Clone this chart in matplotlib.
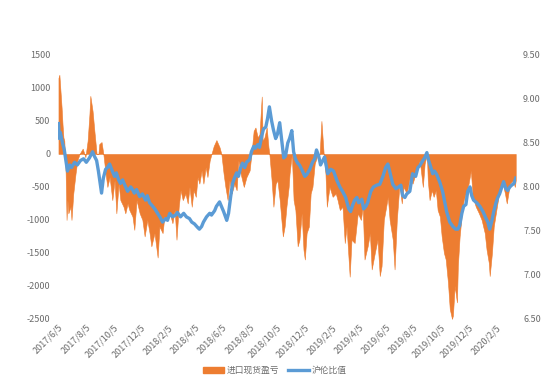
import matplotlib
matplotlib.use("Agg")
import matplotlib.pyplot as plt
from matplotlib.patches import Patch
from matplotlib.lines import Line2D
import pandas as pd

plt.rcParams['font.family'] = ['Noto Sans CJK SC', 'DejaVu Sans']

area_dates = [
    "2017-06-05", "2017-06-07", "2017-06-09", "2017-06-12", "2017-06-14", "2017-06-16", "2017-06-18",
    "2017-06-21", "2017-06-23", "2017-06-25", "2017-06-27", "2017-07-02", "2017-07-04", "2017-07-08",
    "2017-07-13", "2017-07-17", "2017-07-22", "2017-07-29", "2017-08-04", "2017-08-09", "2017-08-13",
    "2017-08-15", "2017-08-20", "2017-08-24", "2017-08-29", "2017-09-02", "2017-09-04", "2017-09-09",
    "2017-09-13", "2017-09-18", "2017-09-22", "2017-09-27", "2017-10-03", "2017-10-08", "2017-10-12",
    "2017-10-17", "2017-10-21", "2017-10-28", "2017-11-01", "2017-11-06", "2017-11-10", "2017-11-17",
    "2017-11-21", "2017-11-26", "2017-12-03", "2017-12-09", "2017-12-14", "2017-12-20", "2017-12-25",
    "2017-12-29", "2018-01-05", "2018-01-12", "2018-01-16", "2018-01-23", "2018-01-27", "2018-02-01",
    "2018-02-08", "2018-02-14", "2018-02-19", "2018-02-23", "2018-02-28", "2018-03-04", "2018-03-09",
    "2018-03-15", "2018-03-20", "2018-03-24", "2018-03-29", "2018-04-02", "2018-04-07", "2018-04-11",
    "2018-04-15", "2018-04-20", "2018-04-24", "2018-04-29", "2018-05-03", "2018-05-08", "2018-05-12",
    "2018-05-17", "2018-05-23", "2018-05-30", "2018-06-03", "2018-06-08", "2018-06-12", "2018-06-17",
    "2018-06-21", "2018-06-26", "2018-07-02", "2018-07-07", "2018-07-11", "2018-07-16", "2018-07-23",
    "2018-07-29", "2018-08-05", "2018-08-09", "2018-08-14", "2018-08-18", "2018-08-23", "2018-08-27",
    "2018-09-01", "2018-09-03", "2018-09-07", "2018-09-12", "2018-09-16", "2018-09-18", "2018-09-23",
    "2018-09-27", "2018-10-02", "2018-10-06", "2018-10-11", "2018-10-18", "2018-10-22", "2018-10-26",
    "2018-10-31", "2018-11-02", "2018-11-07", "2018-11-11", "2018-11-15", "2018-11-20", "2018-11-24",
    "2018-11-29", "2018-12-03", "2018-12-06", "2018-12-10", "2018-12-15", "2018-12-19", "2018-12-23",
    "2018-12-28", "2019-01-04", "2019-01-08", "2019-01-12", "2019-01-17", "2019-01-21", "2019-01-24",
    "2019-01-30", "2019-02-06", "2019-02-13", "2019-02-17", "2019-02-22", "2019-02-28", "2019-03-05",
    "2019-03-09", "2019-03-16", "2019-03-20", "2019-03-27", "2019-04-03", "2019-04-10", "2019-04-14",
    "2019-04-18", "2019-04-25", "2019-04-30", "2019-05-04", "2019-05-11", "2019-05-17", "2019-05-22",
    "2019-05-26", "2019-05-31", "2019-06-04", "2019-06-09", "2019-06-13", "2019-06-20", "2019-06-24",
    "2019-06-29", "2019-07-05", "2019-07-10", "2019-07-14", "2019-07-21", "2019-07-28", "2019-08-03",
    "2019-08-12", "2019-08-19", "2019-08-26", "2019-08-30", "2019-09-04", "2019-09-06", "2019-09-10",
    "2019-09-15", "2019-09-19", "2019-09-24", "2019-09-28", "2019-10-03", "2019-10-07", "2019-10-12",
    "2019-10-16", "2019-10-21", "2019-10-25", "2019-10-30", "2019-11-01", "2019-11-05", "2019-11-10",
    "2019-11-12", "2019-11-16", "2019-11-21", "2019-11-25", "2019-12-02", "2019-12-06", "2019-12-11",
    "2019-12-15", "2019-12-22", "2019-12-29", "2020-01-04", "2020-01-11", "2020-01-15", "2020-01-20",
    "2020-01-22", "2020-01-27", "2020-01-31", "2020-02-07", "2020-02-13", "2020-02-20", "2020-02-25",
    "2020-02-29", "2020-03-07", "2020-03-14", "2020-03-18", "2020-03-20",
]
area_values = [
    1150, 1200, 1000, 700, 450, 250, 200,
    -300, -1000, -700, -900, -800, -1000, -600,
    -300, -100, 0, 80, -50, 200, 600,
    880, 650, 350, 0, 0, 150, 180,
    0, -300, -500, -350, -700, -400, -900,
    -450, -700, -800, -900, -750, -850, -950,
    -1150, -700, -900, -1000, -1250, -1000, -1200,
    -1400, -1200, -1570, -1100, -1200, -950, -1000,
    -900, -1050, -850, -1300, -800, -550, -700,
    -600, -750, -500, -800, -550, -650, -350,
    -450, -250, -450, -200, -350, -100, 0,
    120, 210, 100, 0, -300, -500, -700,
    -400, -600, -450, -550, -100, -300, -500,
    -350, -250, 0, 350, 400, 250, 300,
    870, 200, 250, 400, 100, 0, -400,
    -800, -450, -400, -700, -1250, -1100, -800,
    -500, -300, 0, -700, -850, -1400, -1300,
    -900, -1450, -1600, -1200, -1100, -600, -500,
    -150, 0, 0, 500, 0, -300, -800,
    -500, -650, -600, -700, -850, -800, -1350,
    -1100, -1860, -1300, -1350, -900, -1000, -800,
    -1600, -1400, -1200, -1750, -1500, -1300, -1850,
    -1700, -1000, -850, -650, -1000, -1300, -1750,
    -1000, -450, -750, -500, -600, -350, -450,
    -250, -100, -500, -150, 0, -400, -700,
    -550, -650, -550, -850, -950, -1250, -1500,
    -1600, -1950, -2350, -2500, -2450, -2000, -2250,
    -1700, -1250, -900, -700, -550, -450, -250,
    -650, -800, -900, -1000, -1200, -1450, -1650,
    -1850, -1500, -1100, -800, -550, -450, -600,
    -750, -450, -400, -500, -400,
]

line_dates = [
    "2017-06-05", "2017-06-07", "2017-06-09", "2017-06-14", "2017-06-18", "2017-06-23", "2017-06-25",
    "2017-06-30", "2017-07-04", "2017-07-11", "2017-07-17", "2017-07-24", "2017-07-31", "2017-08-06",
    "2017-08-13", "2017-08-20", "2017-08-24", "2017-08-29", "2017-09-02", "2017-09-07", "2017-09-09",
    "2017-09-13", "2017-09-18", "2017-09-22", "2017-09-27", "2017-10-03", "2017-10-08", "2017-10-12",
    "2017-10-17", "2017-10-21", "2017-10-26", "2017-10-30", "2017-11-06", "2017-11-13", "2017-11-17",
    "2017-11-21", "2017-11-26", "2017-12-03", "2017-12-09", "2017-12-16", "2017-12-20", "2017-12-25",
    "2018-01-01", "2018-01-07", "2018-01-12", "2018-01-18", "2018-01-23", "2018-01-30", "2018-02-03",
    "2018-02-08", "2018-02-14", "2018-02-21", "2018-02-25", "2018-03-04", "2018-03-11", "2018-03-17",
    "2018-03-24", "2018-03-29", "2018-04-04", "2018-04-11", "2018-04-15", "2018-04-20", "2018-04-24",
    "2018-05-01", "2018-05-08", "2018-05-12", "2018-05-19", "2018-05-23", "2018-05-30", "2018-06-03",
    "2018-06-08", "2018-06-15", "2018-06-19", "2018-06-24", "2018-06-28", "2018-07-02", "2018-07-07",
    "2018-07-11", "2018-07-16", "2018-07-20", "2018-07-25", "2018-07-29", "2018-08-05", "2018-08-09",
    "2018-08-14", "2018-08-18", "2018-08-23", "2018-08-27", "2018-09-01", "2018-09-05", "2018-09-10",
    "2018-09-14", "2018-09-18", "2018-09-23", "2018-09-27", "2018-10-02", "2018-10-06", "2018-10-11",
    "2018-10-15", "2018-10-20", "2018-10-24", "2018-10-29", "2018-11-02", "2018-11-07", "2018-11-11",
    "2018-11-15", "2018-11-20", "2018-11-24", "2018-11-29", "2018-12-06", "2018-12-10", "2018-12-17",
    "2018-12-23", "2018-12-28", "2019-01-01", "2019-01-06", "2019-01-10", "2019-01-15", "2019-01-19",
    "2019-01-26", "2019-02-02", "2019-02-08", "2019-02-15", "2019-02-22", "2019-02-28", "2019-03-07",
    "2019-03-14", "2019-03-18", "2019-03-23", "2019-03-27", "2019-04-01", "2019-04-05", "2019-04-12",
    "2019-04-16", "2019-04-21", "2019-04-25", "2019-05-02", "2019-05-08", "2019-05-15", "2019-05-22",
    "2019-05-29", "2019-06-04", "2019-06-09", "2019-06-13", "2019-06-20", "2019-06-27", "2019-07-03",
    "2019-07-08", "2019-07-12", "2019-07-17", "2019-07-21", "2019-07-28", "2019-08-03", "2019-08-10",
    "2019-08-15", "2019-08-19", "2019-08-26", "2019-08-30", "2019-09-04", "2019-09-08", "2019-09-13",
    "2019-09-17", "2019-09-21", "2019-09-26", "2019-10-03", "2019-10-09", "2019-10-14", "2019-10-18",
    "2019-10-25", "2019-11-01", "2019-11-07", "2019-11-12", "2019-11-16", "2019-11-21", "2019-11-25",
    "2019-11-30", "2019-12-04", "2019-12-09", "2019-12-13", "2019-12-17", "2019-12-24", "2019-12-31",
    "2020-01-07", "2020-01-13", "2020-01-18", "2020-01-22", "2020-01-27", "2020-01-31", "2020-02-05",
    "2020-02-09", "2020-02-13", "2020-02-18", "2020-02-22", "2020-02-27", "2020-03-02", "2020-03-07",
    "2020-03-11", "2020-03-16", "2020-03-20",
]
line_values = [
    8.72, 8.55, 8.62, 8.50, 8.42, 8.25, 8.18,
    8.25, 8.22, 8.28, 8.25, 8.30, 8.32, 8.28,
    8.33, 8.40, 8.35, 8.30, 8.18, 8.00, 7.93,
    8.10, 8.20, 8.22, 8.26, 8.18, 8.12, 8.16,
    8.08, 8.04, 8.08, 8.03, 7.95, 8.00, 7.97,
    7.93, 7.97, 7.89, 7.92, 7.85, 7.90, 7.82,
    7.78, 7.74, 7.70, 7.65, 7.60, 7.64, 7.62,
    7.70, 7.66, 7.68, 7.71, 7.66, 7.70, 7.66,
    7.64, 7.60, 7.58, 7.54, 7.52, 7.55, 7.60,
    7.66, 7.70, 7.68, 7.73, 7.78, 7.83, 7.78,
    7.72, 7.62, 7.70, 7.90, 8.04, 8.10, 8.16,
    8.12, 8.22, 8.27, 8.22, 8.28, 8.31, 8.40,
    8.46, 8.44, 8.48, 8.45, 8.58, 8.66, 8.68,
    8.78, 8.91, 8.75, 8.65, 8.55, 8.60, 8.73,
    8.55, 8.33, 8.35, 8.50, 8.55, 8.64, 8.40,
    8.32, 8.27, 8.25, 8.20, 8.12, 8.14, 8.20,
    8.28, 8.32, 8.42, 8.35, 8.25, 8.30, 8.34,
    8.15, 8.20, 8.18, 8.08, 8.00, 7.95, 7.88,
    7.75, 7.72, 7.80, 7.85, 7.88, 7.82, 7.86,
    7.75, 7.78, 7.82, 7.95, 8.00, 8.02, 8.03,
    8.12, 8.22, 8.26, 8.18, 8.03, 7.98, 8.00,
    8.02, 7.90, 7.88, 7.92, 7.95, 8.15, 8.12,
    8.22, 8.24, 8.30, 8.33, 8.39, 8.30, 8.22,
    8.15, 8.18, 8.14, 8.05, 7.95, 7.82, 7.72,
    7.60, 7.55, 7.52, 7.52, 7.56, 7.70, 7.78,
    7.80, 7.95, 8.00, 7.90, 7.85, 7.82, 7.78,
    7.72, 7.65, 7.60, 7.52, 7.62, 7.72, 7.82,
    7.88, 7.92, 8.00, 8.06, 7.98, 7.96, 8.00,
    8.02, 8.04, 8.10,
]

left_ticks = [1500, 1000, 500, 0, -500, -1000, -1500, -2000, -2500]
right_ticks = [9.50, 9.00, 8.50, 8.00, 7.50, 7.00, 6.50]
x_tick_dates = ["2017-06-05", "2017-08-05", "2017-10-05", "2017-12-05", "2018-02-05", "2018-04-05",
                "2018-06-05", "2018-08-05", "2018-10-05", "2018-12-05", "2019-02-05", "2019-04-05",
                "2019-06-05", "2019-08-05", "2019-10-05", "2019-12-05", "2020-02-05"]
area_label = "进口现货盈亏"
line_label = "沪伦比值"

ORANGE = "#ED7D31"
BLUE = "#5B9BD5"
GREY = "#6B6B6B"

ad = pd.to_datetime(area_dates)
ld = pd.to_datetime(line_dates)
xt = pd.to_datetime(x_tick_dates)

fig = plt.figure(figsize=(5.5, 3.87), dpi=100)
ax = fig.add_axes([0.1055, 0.176, 0.833, 0.682])
ax.fill_between(ad, area_values, 0, color=ORANGE, linewidth=0.4, edgecolor=ORANGE)
ax.set_ylim(-2500, 1500)
ax.set_yticks(left_ticks)
ax.set_yticklabels([str(v) for v in left_ticks])

ax2 = ax.twinx()
ax2.plot(ld, line_values, color=BLUE, linewidth=2.4, solid_joinstyle='round')
ax2.set_ylim(6.5, 9.5)
ax2.set_yticks(right_ticks)
ax2.set_yticklabels([f"{v:.2f}" for v in right_ticks])

ax.set_xlim(pd.Timestamp("2017-06-04"), pd.Timestamp("2020-03-21"))
ax.set_xticks(xt)
ax.set_xticklabels([f"{d.year}/{d.month}/{d.day}" for d in xt], rotation=45,
                   ha='right', rotation_mode='anchor')

for a in (ax, ax2):
    for s in a.spines.values():
        s.set_visible(False)
    a.tick_params(length=0, labelsize=6.5, colors=GREY)
ax.tick_params(axis='y', pad=5.5)
ax2.tick_params(axis='y', pad=5)
ax.tick_params(axis='x', pad=3)

handles = [Patch(facecolor=ORANGE, edgecolor=ORANGE), Line2D([0], [0], color=BLUE, linewidth=2.4)]
fig.legend(handles, [area_label, line_label], loc='center', bbox_to_anchor=(0.5, 0.042),
           ncol=2, frameon=False, fontsize=6.3, labelcolor=GREY, handlelength=2.4,
           columnspacing=1.0, handletextpad=0.3)

fig.savefig("out.png", dpi=100)
